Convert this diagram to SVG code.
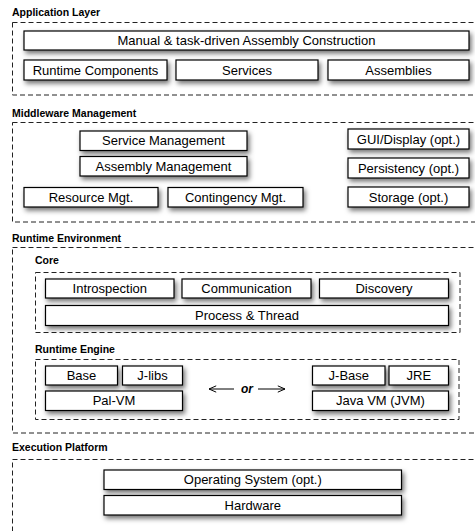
<svg xmlns="http://www.w3.org/2000/svg" width="475" height="531" viewBox="0 0 475 531">
<style>
  .title { font-family: "Liberation Sans", Arial, Helvetica, sans-serif; font-size: 10.5px; font-weight: bold; fill: #000; }
  .lbl { font-family: "Liberation Sans", Arial, Helvetica, sans-serif; font-size: 13px; fill: #000; text-anchor: middle; }
  .box { fill: #fff; stroke: #000; stroke-width: 1.2; filter: url(#shadow); }
  .dash { fill: none; stroke: #222; stroke-width: 1; stroke-dasharray: 5 3; }
  .arrow { stroke: #000; stroke-width: 1; fill: none; marker-end: url(#open); }
  .or { font-family: "Liberation Sans", Arial, Helvetica, sans-serif; font-size: 12px; font-weight: bold; font-style: italic; text-anchor: middle; }
</style>
<defs>
  <filter id="shadow" x="-20%" y="-40%" width="140%" height="200%">
    <feDropShadow dx="2" dy="3" stdDeviation="2.5" flood-color="#000" flood-opacity="0.55"/>
  </filter>
  <marker id="open" viewBox="0 0 10 10" refX="9" refY="5" markerWidth="9" markerHeight="9" markerUnits="userSpaceOnUse" orient="auto">
    <path d="M1,1.5 L9,5 L1,8.5" fill="none" stroke="#000" stroke-width="1.1"/>
  </marker>
</defs>
<rect width="475" height="531" fill="#fff"/>

<!-- Application Layer -->
<g id="application-layer">
  <text class="title" x="12" y="16">Application Layer</text>
  <rect class="dash" x="12.5" y="22.5" width="470" height="72.5"/>
</g>
<g id="manual-assembly">
  <rect class="box" x="24" y="31" width="445" height="19"/>
  <text class="lbl" x="246.5" y="45">Manual &amp; task-driven Assembly Construction</text>
</g>
<g id="runtime-components">
  <rect class="box" x="24" y="60" width="143" height="20"/>
  <text class="lbl" x="95.5" y="74.5">Runtime Components</text>
</g>
<g id="services">
  <rect class="box" x="176" y="60" width="142" height="20"/>
  <text class="lbl" x="247" y="74.5">Services</text>
</g>
<g id="assemblies">
  <rect class="box" x="328" y="60" width="141" height="20"/>
  <text class="lbl" x="398.5" y="74.5">Assemblies</text>
</g>

<!-- Middleware Management -->
<g id="middleware-management">
  <text class="title" x="12" y="116.5">Middleware Management</text>
  <rect class="dash" x="12.5" y="122.5" width="470" height="99.5"/>
</g>
<g id="service-management">
  <rect class="box" x="80" y="131" width="167" height="19.5"/>
  <text class="lbl" x="163.5" y="145.3">Service Management</text>
</g>
<g id="assembly-management">
  <rect class="box" x="80" y="156.5" width="167" height="19.5"/>
  <text class="lbl" x="163.5" y="170.8">Assembly Management</text>
</g>
<g id="resource-mgt">
  <rect class="box" x="24" y="187.5" width="134" height="19.5"/>
  <text class="lbl" x="91" y="201.8">Resource Mgt.</text>
</g>
<g id="contingency-mgt">
  <rect class="box" x="168" y="187.5" width="135" height="19.5"/>
  <text class="lbl" x="235.5" y="201.8">Contingency Mgt.</text>
</g>
<g id="gui-display">
  <rect class="box" x="348" y="129" width="121" height="20"/>
  <text class="lbl" x="408.5" y="143.5">GUI/Display (opt.)</text>
</g>
<g id="persistency">
  <rect class="box" x="348" y="158" width="121" height="20"/>
  <text class="lbl" x="408.5" y="172.5">Persistency (opt.)</text>
</g>
<g id="storage">
  <rect class="box" x="348" y="187" width="121" height="20"/>
  <text class="lbl" x="408.5" y="201.5">Storage (opt.)</text>
</g>

<!-- Runtime Environment -->
<g id="runtime-environment">
  <text class="title" x="12" y="241.5">Runtime Environment</text>
  <rect class="dash" x="12.5" y="247.5" width="470" height="185.5"/>
</g>
<g id="core">
  <text class="title" x="35" y="263.5">Core</text>
  <rect class="dash" x="35.5" y="272.5" width="424.5" height="60"/>
</g>
<g id="introspection">
  <rect class="box" x="45.5" y="279" width="128.5" height="19"/>
  <text class="lbl" x="109.8" y="293">Introspection</text>
</g>
<g id="communication">
  <rect class="box" x="182" y="279" width="129" height="19"/>
  <text class="lbl" x="246.5" y="293">Communication</text>
</g>
<g id="discovery">
  <rect class="box" x="319.5" y="279" width="129" height="19"/>
  <text class="lbl" x="384" y="293">Discovery</text>
</g>
<g id="process-thread">
  <rect class="box" x="45.5" y="305.5" width="403" height="20"/>
  <text class="lbl" x="247" y="320">Process &amp; Thread</text>
</g>

<g id="runtime-engine">
  <text class="title" x="35" y="352.5">Runtime Engine</text>
  <rect class="dash" x="35.5" y="359.5" width="423.5" height="60"/>
</g>
<g id="base">
  <rect class="box" x="45.5" y="366" width="72" height="19"/>
  <text class="lbl" x="81.5" y="380">Base</text>
</g>
<g id="j-libs">
  <rect class="box" x="122.5" y="366" width="60" height="19"/>
  <text class="lbl" x="152.5" y="380">J-libs</text>
</g>
<g id="pal-vm">
  <rect class="box" x="45.5" y="391" width="137" height="19.5"/>
  <text class="lbl" x="114" y="405.3">Pal-VM</text>
</g>
<g id="j-base">
  <rect class="box" x="312.5" y="366" width="72.5" height="19"/>
  <text class="lbl" x="348.8" y="380">J-Base</text>
</g>
<g id="jre">
  <rect class="box" x="389" y="366" width="59.5" height="19"/>
  <text class="lbl" x="418.8" y="380">JRE</text>
</g>
<g id="java-vm">
  <rect class="box" x="312.5" y="391" width="136" height="19.5"/>
  <text class="lbl" x="380.5" y="405.3">Java VM (JVM)</text>
</g>

<g id="or-label">
  <text class="or" x="247" y="393">or</text>
</g>

<!-- Execution Platform -->
<g id="execution-platform">
  <text class="title" x="12" y="451">Execution Platform</text>
  <rect class="dash" x="12.5" y="459.5" width="470" height="90"/>
</g>
<g id="operating-system">
  <rect class="box" x="104" y="470" width="297.5" height="19.5"/>
  <text class="lbl" x="252.8" y="484.3">Operating System (opt.)</text>
</g>
<g id="hardware">
  <rect class="box" x="104" y="495.5" width="297.5" height="19.5"/>
  <text class="lbl" x="252.8" y="509.8">Hardware</text>
</g>

<g id="connectors">
  <line class="arrow" x1="234" y1="389" x2="209" y2="389"/>
  <line class="arrow" x1="258" y1="389" x2="285" y2="389"/>
</g>
</svg>
